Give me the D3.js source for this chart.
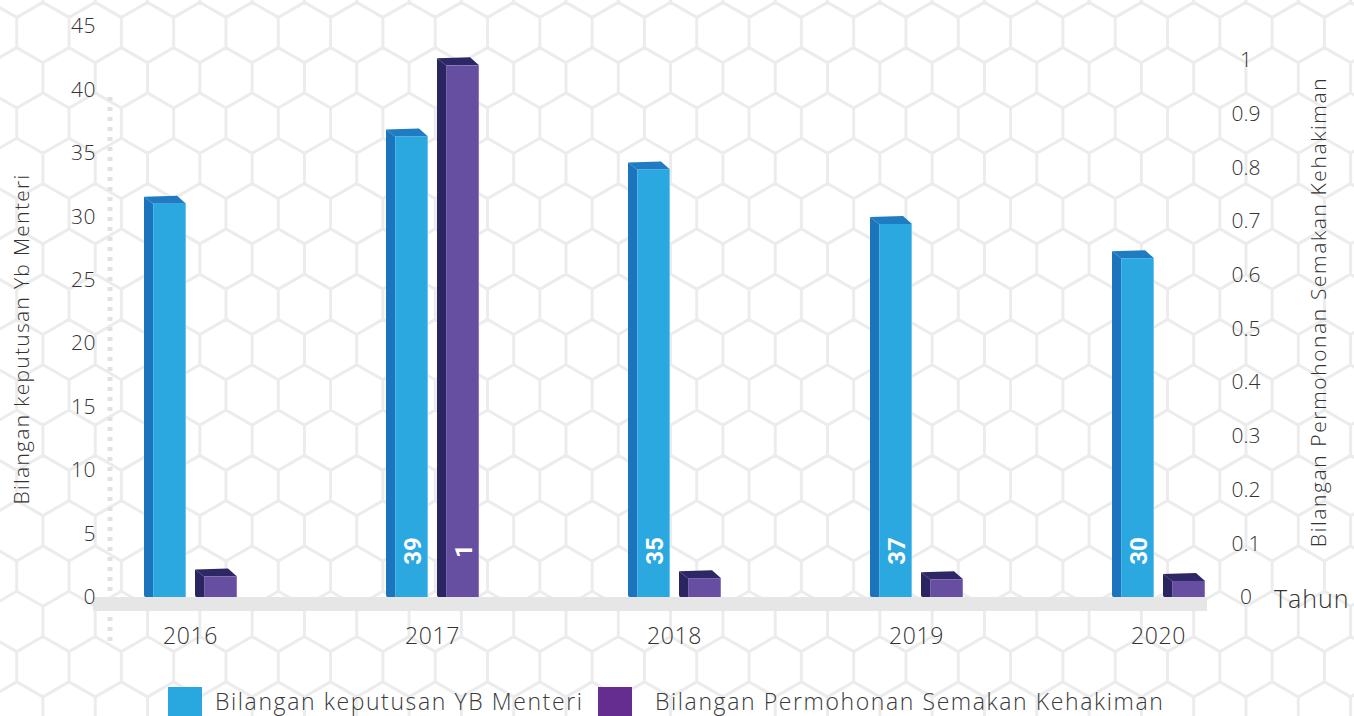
<!DOCTYPE html>
<html><head><meta charset="utf-8">
<script src="https://cdn.jsdelivr.net/npm/d3@7/dist/d3.min.js"></script>
<style>
body{margin:0;background:#fff;overflow:hidden;}
svg{display:block;}
text{font-family:"Open Sans",Lato,sans-serif;}
</style>
</head><body><svg id="c" width="1354" height="716"></svg>
<script>
// ---- data ----
const years = ["2016", "2017", "2018", "2019", "2020"];
const seriesNames = ["Bilangan keputusan YB Menteri", "Bilangan Permohonan Semakan Kehakiman"];
// bar heights as drawn (left axis)
const keputusan = [31.0, 36.3, 33.7, 29.4, 26.7];
const keputusanLabels = ["", "39", "35", "37", "30"];
// bar heights as drawn (right axis)
const semakan = [0.038, 0.99, 0.035, 0.033, 0.030];
const semakanLabels = ["", "1", "", "", ""];
const leftTicks = [0, 5, 10, 15, 20, 25, 30, 35, 40, 45];
const rightTicks = [0, 0.1, 0.2, 0.3, 0.4, 0.5, 0.6, 0.7, 0.8, 0.9, 1];
const leftTitle = "Bilangan keputusan Yb Menteri";
const rightTitle = "Bilangan Permohonan Semakan Kehakiman";
const xTitle = "Tahun";

// ---- styles ----
const palette = [
  {front: "#2ca8e0", side: "#1c75bc", top: "#1f7bc2", edge: "#6cc6ef", legend: "#29a8e0"},
  {front: "#664fa0", side: "#2a2460", top: "#2d2766", edge: "#8a78b8", legend: "#662d91"}
];
const textColor = "#333333";

const svg = d3.select("#c");

// ---- hex background (decorative) ----
(function(){
  const s = 30.2, w = s * Math.sqrt(3), rowH = 1.5 * s;
  const p = d3.path();
  for (let j = -1; j < 17; j++) {
    const cy = 32.5 + j * rowH;
    const off = (j % 2 !== 0) ? w / 2 : 0;
    for (let k = -2; k < 28; k++) {
      const cx = 42.9 + k * w + off;
      for (let i = 0; i < 6; i++) {
        const a = (-90 + 60 * i) * Math.PI / 180;
        const px = cx + s * Math.cos(a), py = cy + s * Math.sin(a);
        if (i === 0) p.moveTo(px, py); else p.lineTo(px, py);
      }
      p.closePath();
    }
  }
  svg.append("path").attr("d", p.toString()).attr("fill", "none")
    .attr("stroke", "#ececec").attr("stroke-width", 3);
})();

// ---- scales ----
const x0 = d3.scalePoint().domain(years).range([190, 1158]);
const x1 = d3.scaleBand().domain([0, 1]).range([-37, 47]).paddingInner(18 / 51);
const yL = d3.scaleLinear().domain([0, 45]).range([597, 26]);
const yR = d3.scaleLinear().domain([0, 1]).range([597, 60]);
const bw = x1.bandwidth();
const dx = 9, dy = 7;

// dotted guide line
svg.append("line").attr("x1", 110).attr("x2", 110).attr("y1", 97).attr("y2", 647)
  .attr("stroke", "#e2e2e2").attr("stroke-width", 5).attr("stroke-dasharray", "4 6");

// floor
svg.append("rect").attr("x", 93).attr("y", yL(0)).attr("width", 1207 - 93).attr("height", 14)
  .attr("fill", "#e6e6e6");

// ---- bars ----
const rows = [];
years.forEach((yr, i) => {
  rows.push({year: yr, s: 0, v: keputusan[i], label: keputusanLabels[i], y: yL});
  rows.push({year: yr, s: 1, v: semakan[i], label: semakanLabels[i], y: yR});
});

const bars = svg.append("g").selectAll("g").data(rows).join("g");
bars.each(function(d) {
  const g = d3.select(this);
  const x = x0(d.year) + x1(d.s);
  const top = d.y(d.v), base = d.y(0);
  const c = palette[d.s];
  // side face
  g.append("path")
    .attr("d", `M${x - dx},${top - dy}L${x},${top}L${x},${base}L${x - dx + 1.5},${base}Q${x - dx},${base} ${x - dx},${base - 2}Z`)
    .attr("fill", c.side);
  // top face
  g.append("path")
    .attr("d", `M${x - dx},${top - dy}L${x + bw - dx},${top - dy - 1}L${x + bw},${top}L${x},${top}Z`)
    .attr("fill", c.top);
  // front face
  g.append("rect").attr("x", x).attr("y", top).attr("width", bw).attr("height", base - top)
    .attr("fill", c.front);
  g.append("line").attr("x1", x + bw - 0.5).attr("x2", x + bw - 0.5).attr("y1", top).attr("y2", base)
    .attr("stroke", c.edge).attr("stroke-width", 1);
  g.append("line").attr("x1", x + 0.5).attr("x2", x + 0.5).attr("y1", top).attr("y2", base)
    .attr("stroke", c.edge).attr("stroke-width", 0.8).attr("opacity", 0.6);
  if (d.label) {
    g.append("text")
      .attr("transform", `translate(${x + bw / 2 + 1},${base - 46}) rotate(-90)`)
      .attr("text-anchor", "middle").attr("dy", "0.36em")
      .attr("fill", "#fff").attr("font-weight", 700).attr("font-size", 24)
      .style("font-family", "Roboto, 'Open Sans', sans-serif")
      .text(d.label);
  }
});

// ---- axes ----
const axL = svg.append("g").attr("transform", "translate(96,0)")
  .call(d3.axisLeft(yL).tickValues(leftTicks).tickSize(0).tickPadding(0));
axL.select(".domain").remove();
axL.selectAll("text").attr("font-size", 21).attr("fill", textColor)
  .style("font-family", "'Open Sans', sans-serif").attr("font-weight", 300)
  .attr("letter-spacing", 0.5);

const axR = svg.append("g").attr("transform", "translate(1246,0)")
  .call(d3.axisRight(yR).tickValues(rightTicks).tickFormat(d3.format("~g")).tickSize(0).tickPadding(0));
axR.select(".domain").remove();
axR.selectAll("text").attr("x", 0).attr("text-anchor", "middle").attr("font-size", 21)
  .attr("fill", textColor).attr("font-weight", 300);

const axB = svg.append("g")
  .call(d3.axisBottom(x0).tickSize(0).tickPadding(0));
axB.select(".domain").remove();
axB.selectAll("text").attr("y", 644).attr("dy", 0).attr("font-size", 23)
  .attr("fill", textColor).attr("font-weight", 300).attr("letter-spacing", 0.6);

// titles
svg.append("text").attr("transform", "translate(29,339) rotate(-90)")
  .attr("text-anchor", "middle").attr("font-size", 21).attr("fill", textColor).attr("font-weight", 300)
  .attr("letter-spacing", 1.3)
  .text(leftTitle);
svg.append("text").attr("transform", "translate(1326,312) rotate(-90)")
  .attr("text-anchor", "middle").attr("font-size", 21).attr("fill", textColor).attr("font-weight", 300)
  .attr("letter-spacing", 1.6)
  .text(rightTitle);
svg.append("text").attr("x", 1274).attr("y", 608).attr("font-size", 25)
  .attr("fill", textColor).attr("font-weight", 300).attr("letter-spacing", 1).text(xTitle);

// legend
const legX = [168, 598], legTX = [215, 655];
const leg = svg.append("g").selectAll("g").data(seriesNames).join("g");
leg.append("rect").attr("x", (d, i) => legX[i]).attr("y", 687).attr("width", 34).attr("height", 34)
  .attr("fill", (d, i) => palette[i].legend);
leg.append("text").attr("x", (d, i) => legTX[i]).attr("y", 710).attr("font-size", 23)
  .attr("fill", "#3a3a3a").attr("font-weight", 300).attr("letter-spacing", 1.6).text(d => d);
</script>
</body></html>
